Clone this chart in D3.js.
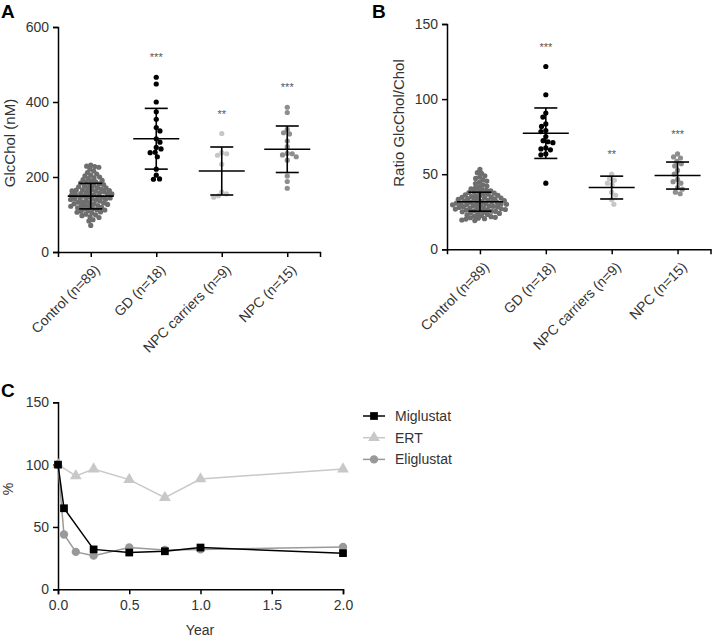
<!DOCTYPE html>
<html>
<head>
<meta charset="utf-8">
<script src="https://cdn.jsdelivr.net/npm/d3@7"></script>
<style>
body{margin:0;background:#fff;}
text{font-family:"Liberation Sans",Arial,sans-serif;}
.axis path,.axis line{stroke:#000;stroke-width:1.5;}
.axis text{fill:#333;font-size:14px;}
</style>
</head>
<body>
<script>
const width=712;
const height=639;

// group names and colours used in panels A and B
const groups=['Control (n=89)','GD (n=18)','NPC carriers (n=9)','NPC (n=15)'];
const groupColors=['#6e6e6e','#000000','#c6c6c6','#8e8e8e'];
const stars=['','***','**','***'];

// panel A: GlcChol (nM)
const glcControl=[232,229,228,226,221,216,212,208,205,203,200,198,196,193,191,189,187,186,184,182,180,
  179,177,176,174,172,171,169,168,167,166,165,164,163,162,160,159,158,157,156,155,154,153,152,151,
  149,148,147,146,145,144,143,142,141,140,138,137,136,134,133,132,131,129,128,127,126,124,123,122,121,
  119,118,116,115,113,112,110,109,107,106,104,101,99,97,94,92,86,83,71];
const glcGD=[466,448,400,374,354,332,323,302,293,279,275,266,265,254,221,205,194,195];
const glcCarriers=[316,265,262,258,234,160,155,150,146];
const glcNPC=[386,372,327,318,315,296,281,263,262,259,254,245,203,188,170];
const glcMean=[149,302,216,274];
const glcSD=[34,81,64,62];

// panel B: ratio GlcChol/Chol
const ratioControl=[53.2,51.0,50.6,48.9,48.1,47.2,46.3,45.4,44.6,43.8,42.9,42.1,41.5,40.8,40.2,
  39.7,39.3,38.9,38.5,38.1,37.8,37.4,37.0,36.7,36.3,36.0,35.7,35.4,35.1,
  34.8,34.6,34.3,34.1,33.8,33.6,33.3,33.1,32.8,32.6,32.4,32.1,31.9,31.7,31.4,31.2,30.9,30.7,30.5,30.3,30.1,30.0,
  29.8,29.6,29.3,29.1,28.9,28.6,28.4,28.2,27.9,27.7,27.5,27.2,27.0,26.8,26.5,26.3,26.1,25.8,25.6,25.4,25.2,25.0,
  24.7,24.3,23.9,23.5,23.2,22.8,22.4,22.0,21.7,21.3,21.0,20.7,20.4,20.1,19.5,19.1];
const ratioGD=[121.7,102.9,90.7,88,83.5,81.8,79.1,78.4,75.1,72.3,71.6,71.0,67.5,66.8,66.2,63.5,62.9,44];
const ratioCarriers=[50,47,46,44,43,38,36,33,30];
const ratioNPC=[63.5,61.5,60.8,58.5,57,55.5,52.5,50,46.5,45,44,41,40,38,37];
const ratioMean=[31.7,77.3,41.1,49.1];
const ratioSD=[6.3,16.8,7.6,9];

// panel C: % over time
const migYears=[0,0.042,0.25,0.5,0.75,1,2];
const migPct=[100,65,32,29.5,30.5,33.5,29];
const ertYears=[0,0.125,0.25,0.5,0.75,1,2];
const ertPct=[100,91,96.5,88,73.5,88.5,96.5];
const eliYears=[0,0.042,0.125,0.25,0.5,0.75,1,2];
const eliPct=[100,44,30,27,33.5,31.5,32,34];

let svg=d3.select('body').append('svg')
  .attr('width',width)
  .attr('height',height);

// simple beeswarm: put each dot as close to the centre line as it can go
function swarm(values,y,cx,d){
  const pts=values.map(v=>({v:v,y:y(v)})).sort((a,b)=>a.y-b.y);
  const placed=[];
  pts.forEach((p,i)=>{
    const near=placed.filter(q=>Math.abs(q.y-p.y)<d);
    let cands=[0];
    near.forEach(q=>{
      const dx=Math.sqrt(d*d-(q.y-p.y)*(q.y-p.y));
      cands.push(q.dx+dx,q.dx-dx);
    });
    cands.sort((a,b)=>Math.abs(a)-Math.abs(b) || (i%2? a-b : b-a));
    p.dx=cands.find(c=>near.every(q=>(c-q.dx)*(c-q.dx)+(q.y-p.y)*(q.y-p.y)>=d*d-0.01));
    placed.push(p);
  });
  return placed.map(p=>({v:p.v,y:p.y,x:cx+p.dx}));
}

function dotPanel(cfg){
  const g=svg.append('g');
  const x=d3.scalePoint().domain(groups).range(cfg.xRange).padding(0.5);
  const y=d3.scaleLinear().domain(cfg.yDomain).range(cfg.yRange);

  g.append('g').attr('class','axis')
    .attr('transform',`translate(${cfg.xRange[0]},0)`)
    .call(d3.axisLeft(y).tickValues(cfg.yTicks).tickSizeOuter(0).tickSize(5).tickPadding(4));
  g.append('g').attr('class','axis')
    .attr('transform',`translate(0,${cfg.yRange[0]})`)
    .call(d3.axisBottom(x).tickSizeOuter(0).tickSize(5))
    .selectAll('text')
    .attr('text-anchor','end')
    .attr('dy',null)
    .attr('transform','translate(4,13) rotate(-45)');

  cfg.series.forEach((vals,i)=>{
    const pts=swarm(vals,y,x(groups[i]),i==0?cfg.dense:5);
    g.append('g').selectAll('circle').data(pts).enter().append('circle')
      .attr('cx',d=>d.x).attr('cy',d=>d.y).attr('r',2.6)
      .style('fill',groupColors[i]);

    const cx=x(groups[i]);
    const m=cfg.mean[i], s=cfg.sd[i];
    const lines=[[cx-23,y(m),cx+23,y(m)],[cx-11.5,y(m+s),cx+11.5,y(m+s)],
                 [cx-11.5,y(m-s),cx+11.5,y(m-s)],[cx,y(m+s),cx,y(m-s)]];
    g.append('g').selectAll('line').data(lines).enter().append('line')
      .attr('x1',d=>d[0]).attr('y1',d=>d[1]).attr('x2',d=>d[2]).attr('y2',d=>d[3])
      .style('stroke','#000').style('stroke-width',1.6);

    if(stars[i]) g.append('text').text(stars[i])
      .attr('x',cx).attr('y',y(d3.max(vals))-16)
      .attr('text-anchor','middle')
      .style('opacity',0.99)
      .style('font-size','11px').style('fill','#555');
  });

  g.append('text').text(cfg.label)
    .attr('transform',`translate(${cfg.labelX},${cfg.labelY}) rotate(-90)`)
    .attr('text-anchor','middle')
    .style('font-size','15px').style('fill','#333');
  g.append('text').text(cfg.letter)
    .attr('x',cfg.letterX).attr('y',18)
    .style('font-size','19px').style('font-weight','bold');
}

dotPanel({letter:'A',letterX:1,xRange:[58,320],yDomain:[0,600],yRange:[252,27],yTicks:[0,200,400,600],
  series:[glcControl,glcGD,glcCarriers,glcNPC],mean:glcMean,sd:glcSD,dense:4.2,
  label:'GlcChol (nM)',labelX:15,labelY:143});
dotPanel({letter:'B',letterX:372,xRange:[447,710.5],yDomain:[0,150],yRange:[249.3,24],yTicks:[0,50,100,150],
  series:[ratioControl,ratioGD,ratioCarriers,ratioNPC],mean:ratioMean,sd:ratioSD,dense:4.2,
  label:'Ratio GlcChol/Chol',labelX:404,labelY:123});

// panel C
const xC=d3.scaleLinear().domain([0,2]).range([58,343]);
const yC=d3.scaleLinear().domain([0,150]).range([589.3,402.3]);
svg.append('g').attr('class','axis').attr('transform','translate(58,0)')
  .call(d3.axisLeft(yC).tickValues([0,50,100,150]).tickSizeOuter(0).tickSize(5).tickPadding(4));
svg.append('g').attr('class','axis').attr('transform','translate(0,589.3)')
  .call(d3.axisBottom(xC).tickValues([0,0.5,1,1.5,2]).tickFormat(d3.format('.1f')).tickSizeOuter(0).tickSize(5).tickPadding(6));

const seriesC=[
  {name:'Miglustat',xs:migYears,ys:migPct,color:'#000000',sym:d3.symbolSquare,size:60},
  {name:'ERT',xs:ertYears,ys:ertPct,color:'#c8c8c8',sym:d3.symbolTriangle,size:60},
  {name:'Eliglustat',xs:eliYears,ys:eliPct,color:'#999999',sym:d3.symbolCircle,size:55}
];
const line=d3.line().x(d=>xC(d[0])).y(d=>yC(d[1]));
// draw ERT first so the dark lines sit on top
[1,2,0].forEach(k=>{
  const s=seriesC[k];
  const pts=s.xs.map((v,i)=>[v,s.ys[i]]);
  svg.append('path').datum(pts).attr('d',line)
    .style('fill','none').style('stroke',s.color).style('stroke-width',1.5);
  svg.append('g').selectAll('path').data(pts).enter().append('path')
    .attr('d',d3.symbol().type(s.sym).size(s.size))
    .attr('transform',d=>`translate(${xC(d[0])},${yC(d[1])})`)
    .style('fill',s.color);
});

const legend=svg.append('g').attr('id','legend');
seriesC.forEach((s,i)=>{
  const ly=416+i*21.7;
  legend.append('line').attr('x1',363).attr('x2',385).attr('y1',ly).attr('y2',ly)
    .style('stroke',s.color).style('stroke-width',1.5);
  legend.append('path').attr('d',d3.symbol().type(s.sym).size(s.size)())
    .attr('transform',`translate(374,${ly})`).style('fill',s.color);
  legend.append('text').text(s.name).attr('x',395).attr('y',ly+5)
    .style('font-size','14px').style('fill','#333');
});

svg.append('text').text('Year').attr('x',200).attr('y',635)
  .attr('text-anchor','middle').style('font-size','14px').style('fill','#333');
svg.append('text').text('%')
  .attr('transform','translate(13,489) rotate(-90)')
  .attr('text-anchor','middle').style('font-size','14px').style('fill','#333');
svg.append('text').text('C').attr('x',1).attr('y',397)
  .style('font-size','19px').style('font-weight','bold');
</script>
</body>
</html>
